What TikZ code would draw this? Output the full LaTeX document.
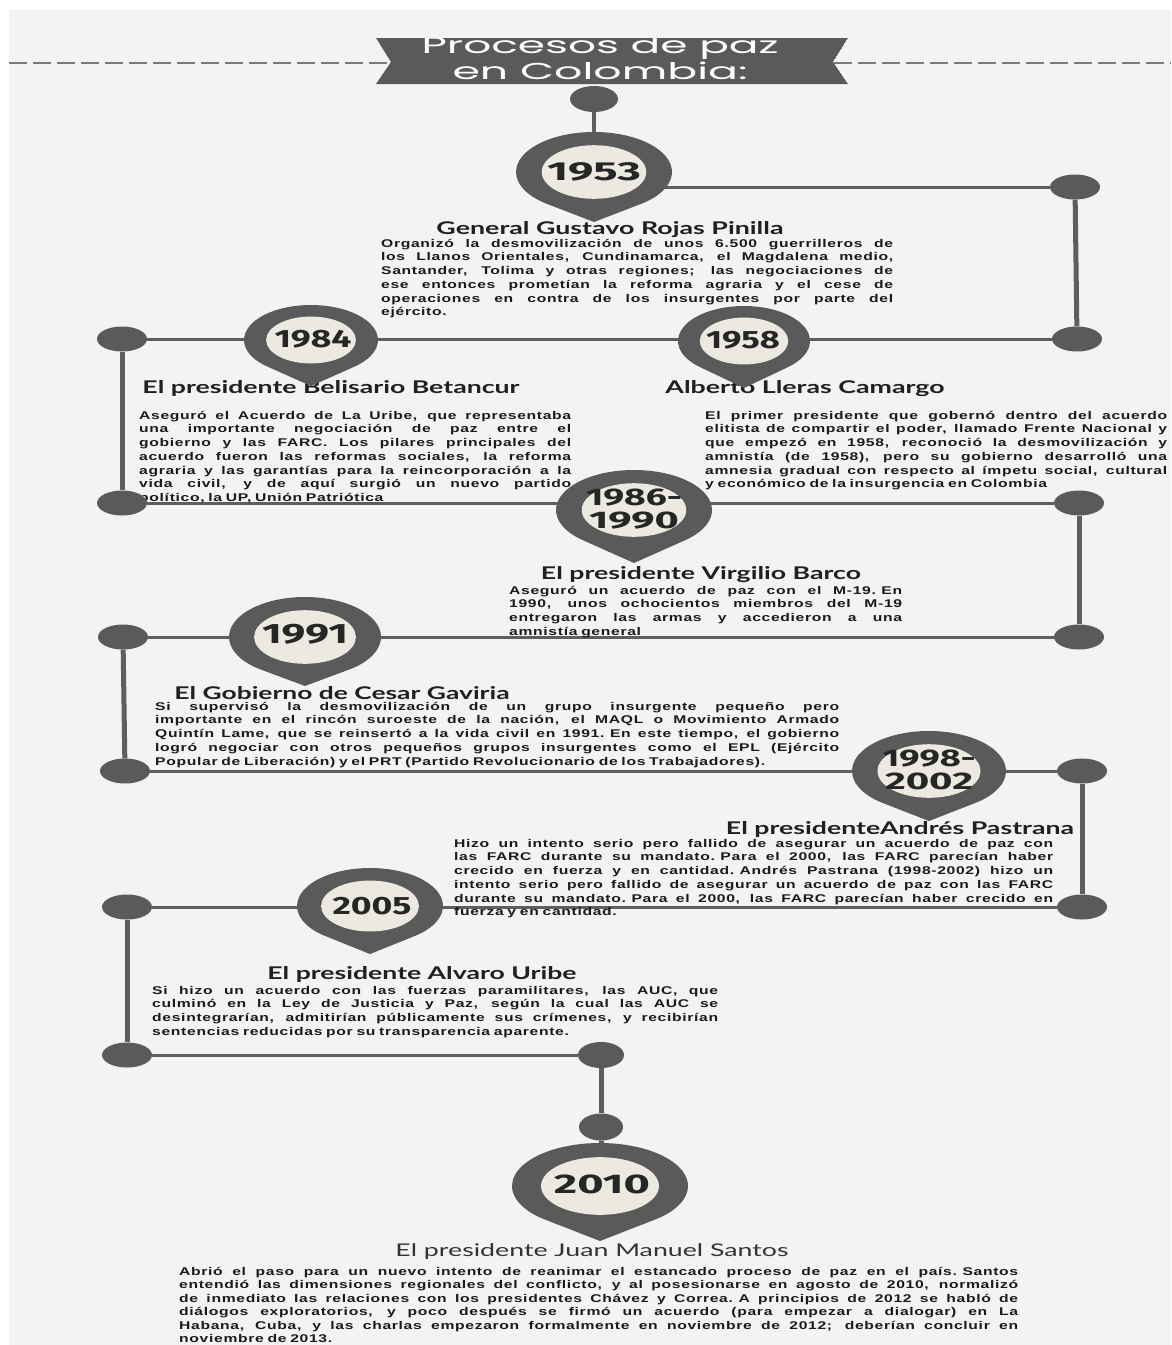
\documentclass[tikz,border=0pt]{standalone}
\usepackage{fontspec}
\usepackage{graphicx}
\usetikzlibrary{shapes.geometric}
\setmainfont{Liberation Sans}
\newfontfamily\bodyf{Liberation Sans}[FakeStretch=1.4, LetterSpace=6]
\newfontfamily\headf{Lato}
\newfontfamily\yearf{Fira Sans}
\newfontfamily\titlef{Poppins}
\definecolor{bgc}{HTML}{F3F3F2}
\definecolor{pinc}{HTML}{5A5A5A}
\definecolor{linec}{HTML}{5E5E5E}
\definecolor{innerc}{HTML}{ECE9E1}
\definecolor{yearc}{HTML}{262626}
\definecolor{bodyc}{HTML}{1A1A1A}
\definecolor{headc}{HTML}{202020}
\definecolor{dashc}{HTML}{7A7A7A}
\pgfdeclarelayer{bg}
\pgfdeclarelayer{conn}
\pgfsetlayers{bg,conn,main}
\def\parw{400pt}
\newcommand\JL[1]{\makebox[\parw][s]{\spaceskip=0.25em plus 1fil\relax\rule{0pt}{10pt}#1}}
\newcommand\LL[1]{\rule{0pt}{10pt}#1}
\newcommand\fw[2]{\resizebox{#1pt}{\height}{#2}}
\newcommand\pinshape[5]{%
  \pgfmathsetmacro\pinA{acos(#3/#5)}%
  \pgfmathsetmacro\pinK{#4/#3}%
  \begin{scope}[shift={(#1,#2)}, xscale=\pinK]
    \fill[pinc] ({#3*cos(90-\pinA)},{#3*sin(90-\pinA)}) arc[start angle={90-\pinA}, end angle={-270+\pinA}, radius=#3] -- (0,#5) -- cycle;
    \fill[innerc] (0,0) circle[radius={0.67*#3}];
  \end{scope}}
\tikzset{
  dotn/.style={ellipse, fill=pinc, minimum width=50pt, minimum height=25pt, inner sep=0pt},
  hcon/.style={draw=linec, line width=3pt},
  vcon/.style={draw=linec, line width=5pt},
  bodyt/.style={font=\bodyf\bfseries\fontsize{11.2}{13.7}\selectfont, text=bodyc, inner sep=0pt, anchor=north west, align=left, text width=#1, execute at begin node={\def\parw{#1}}},
  headt/.style={font=\headf\bfseries\fontsize{17.5}{20}\selectfont, text=headc, inner sep=0pt, anchor=base},
  yeart/.style={font=\yearf\bfseries\fontsize{#1}{23}\selectfont, text=yearc, inner sep=0pt, align=center},
  titlet/.style={font=\titlef\fontsize{23}{26}\selectfont, text=white, inner sep=0pt, anchor=base},
  dashl/.style={draw=dashc, line width=2pt, dash pattern=on 18pt off 6pt}
}
\begin{document}
\begin{tikzpicture}[x=1pt,y=-1pt]
\useasboundingbox (0,0) rectangle (1171,1345);
\begin{pgfonlayer}{bg}
\fill[white] (0,0) rectangle (1171,1345);
\fill[bgc] (9,10) rectangle (1171,1345);
\end{pgfonlayer}

% title banner
\draw[dashl] (9,63) -- (390,63);
\draw[dashl] (834,63) -- (1171,63);
\begin{scope}
\clip (376,38) -- (848,38) -- (833,62) -- (848,84) -- (376,84) -- (391,62) -- cycle;
\fill[pinc] (376,38) -- (848,38) -- (833,62) -- (848,84) -- (376,84) -- (391,62) -- cycle;
\node[titlet] (title1) at (600,53) {\fw{357}{Procesos de paz}};
\node[titlet] (title2) at (600,79) {\fw{295}{en Colombia:}};
\end{scope}

% headings
\node[headt] (h1953) at (610,234) {\fw{347}{General Gustavo Rojas Pinilla}};
\node[headt] (h1984) at (331,393) {\fw{377}{El presidente Belisario Betancur}};
\node[headt] (h1958) at (805,393) {\fw{279}{Alberto Lleras Camargo}};
\node[headt] (h1986) at (701,579) {\fw{320}{El presidente Virgilio Barco}};
\node[headt] (h1991) at (342,699) {\fw{335}{El Gobierno de Cesar Gaviria}};
\node[headt] (h1998) at (900,834) {\fw{348}{El presidenteAndrés Pastrana}};
\node[headt] (h2005) at (422,979) {\fw{309}{El presidente Alvaro Uribe}};
\node[headt, font=\headf\fontsize{17.5}{20}\selectfont, text=black!80] (h2010) at (592,1256) {\fw{393}{El presidente Juan Manuel Santos}};

% paragraphs
\node[bodyt=512pt] (t1953) at (381,237) {%
\JL{Organizó la desmovilización de unos 6.500 guerrilleros de}\\
\JL{los Llanos Orientales, Cundinamarca, el Magdalena medio,}\\
\JL{Santander, Tolima y otras regiones; las negociaciones de}\\
\JL{ese entonces prometían la reforma agraria y el cese de}\\
\JL{operaciones en contra de los insurgentes por parte del}\\
\LL{ejército.}};
\node[bodyt=432pt] (t1984) at (139,409) {%
\JL{Aseguró el Acuerdo de La Uribe, que representaba}\\
\JL{una importante negociación de paz entre el}\\
\JL{gobierno y las FARC. Los pilares principales del}\\
\JL{acuerdo fueron las reformas sociales, la reforma}\\
\JL{agraria y las garantías para la reincorporación a la}\\
\JL{vida civil, y de aquí surgió un nuevo partido}\\
\LL{político, la UP, Unión Patriótica}};
\node[bodyt=462pt] (t1958) at (705,409) {%
\JL{El primer presidente que gobernó dentro del acuerdo}\\
\JL{elitista de compartir el poder, llamado Frente Nacional y}\\
\JL{que empezó en 1958, reconoció la desmovilización y}\\
\JL{amnistía (de 1958), pero su gobierno desarrolló una}\\
\JL{amnesia gradual con respecto al ímpetu social, cultural}\\
\LL{y económico de la insurgencia en Colombia}};
\node[bodyt=393pt] (t1986) at (509,584) {%
\JL{Aseguró un acuerdo de paz con el M-19. En}\\
\JL{1990, unos ochocientos miembros del M-19}\\
\JL{entregaron las armas y accedieron a una}\\
\LL{amnistía general}};
\node[bodyt=684pt] (t1991) at (155,700) {%
\JL{Si supervisó la desmovilización de un grupo insurgente pequeño pero}\\
\JL{importante en el rincón suroeste de la nación, el MAQL o Movimiento Armado}\\
\JL{Quintín Lame, que se reinsertó a la vida civil en 1991. En este tiempo, el gobierno}\\
\JL{logró negociar con otros pequeños grupos insurgentes como el EPL (Ejército}\\
\LL{Popular de Liberación) y el PRT (Partido Revolucionario de los Trabajadores).}};
\node[bodyt=599pt] (t1998) at (454,837) {%
\JL{Hizo un intento serio pero fallido de asegurar un acuerdo de paz con}\\
\JL{las FARC durante su mandato. Para el 2000, las FARC parecían haber}\\
\JL{crecido en fuerza y en cantidad. Andrés Pastrana (1998-2002) hizo un}\\
\JL{intento serio pero fallido de asegurar un acuerdo de paz con las FARC}\\
\JL{durante su mandato. Para el 2000, las FARC parecían haber crecido en}\\
\LL{fuerza y en cantidad.}};
\node[bodyt=566pt] (t2005) at (152,984) {%
\JL{Si hizo un acuerdo con las fuerzas paramilitares, las AUC, que}\\
\JL{culminó en la Ley de Justicia y Paz, según la cual las AUC se}\\
\JL{desintegrarían, admitirían públicamente sus crímenes, y recibirían}\\
\LL{sentencias reducidas por su transparencia aparente.}};
\node[bodyt=839pt, font=\bodyf\bfseries\fontsize{11.2}{13.5}\selectfont] (t2010) at (179,1265) {%
\JL{Abrió el paso para un nuevo intento de reanimar el estancado proceso de paz en el país. Santos}\\
\JL{entendió las dimensiones regionales del conflicto, y al posesionarse en agosto de 2010, normalizó}\\
\JL{de inmediato las relaciones con los presidentes Chávez y Correa. A principios de 2012 se habló de}\\
\JL{diálogos exploratorios, y poco después se firmó un acuerdo (para empezar a dialogar) en La}\\
\JL{Habana, Cuba, y las charlas empezaron formalmente en noviembre de 2012; deberían concluir en}\\
\LL{noviembre de 2013.}};

% pins
\pinshape{594}{172}{40}{78}{50}
\node[yeart=26] (y1953) at (594,172) {\fw{94}{1953}};
\pinshape{311}{340}{35}{67}{46}
\node[yeart=25] (y1984) at (313,339) {\fw{77}{1984}};
\pinshape{744}{341}{35}{66}{47}
\node[yeart=25] (y1958) at (743,340) {\fw{74}{1958}};
\pinshape{634}{510}{40}{78}{53}
\node[yeart=24] (y1986) at (634,509) {\fw{96}{1986-}\\\fw{90}{1990}};
\pinshape{305}{637}{40}{76}{49}
\node[yeart=28] (y1991) at (305,634) {\fw{86}{1991}};
\pinshape{929}{771}{40}{77}{50}
\node[yeart=24] (y1998) at (929,770) {\fw{93}{1998-}\\\fw{88}{2002}};
\pinshape{370}{906}{38}{73}{48}
\node[yeart=25] (y2005) at (372,906) {\fw{79}{2005}};
\pinshape{600}{1186}{43}{88}{55}
\node[yeart=27] (y2010) at (602,1184) {\fw{96}{2010}};

% dots
\node[dotn, minimum width=48pt, minimum height=26pt] (d0) at (594,99) {};
\node[dotn] (d1) at (1075,187) {};
\node[dotn] (d2) at (1077,339) {};
\node[dotn] (d3) at (122,339) {};
\node[dotn] (d4) at (122,503) {};
\node[dotn] (d5) at (1079,503) {};
\node[dotn] (d6) at (1079,637) {};
\node[dotn] (d7) at (123,637) {};
\node[dotn] (d8) at (125,771) {};
\node[dotn] (d9) at (1082,771) {};
\node[dotn] (d10) at (1082,907) {};
\node[dotn] (d11) at (127,907) {};
\node[dotn] (d12) at (127,1055) {};
\node[dotn, minimum width=46pt, minimum height=26pt] (d13) at (601,1055) {};
\node[dotn, minimum width=44pt, minimum height=27pt] (d14) at (601,1127) {};

% connectors
\begin{pgfonlayer}{conn}
\draw[vcon, line width=4pt] (d0) -- (y1953);
\draw[hcon] (d1) -- (d1 -| y1953);
\draw[vcon] (d1) -- (d2);
\draw[hcon] (d2) -- (d3);
\draw[vcon] (d3) -- (d4);
\draw[hcon] (d4) -- (d5);
\draw[vcon] (d5) -- (d6);
\draw[hcon] (d6) -- (d7);
\draw[vcon] (d7) -- (d8);
\draw[hcon] (d8) -- (d9);
\draw[vcon] (d9) -- (d10);
\draw[hcon] (d10) -- (d11);
\draw[vcon] (d11) -- (d12);
\draw[hcon] (d12) -- (d13);
\draw[vcon] (d13) -- (d14);
\draw[vcon] (d14) -- (y2010);
\end{pgfonlayer}
\end{tikzpicture}
\end{document}
